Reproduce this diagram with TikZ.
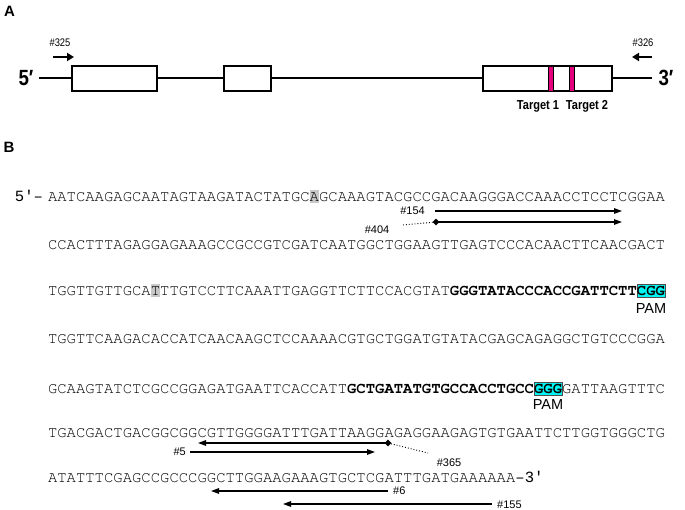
\documentclass[tikz,border=0pt]{standalone}
\usepackage[T1,TU]{fontenc}
\usepackage{fontspec}
\setmainfont{Liberation Sans}
\newfontfamily\narrowsans[FakeStretch=0.85]{Liberation Sans}
\newfontfamily\endmono{Liberation Mono}
\usetikzlibrary{arrows.meta,shapes.geometric}
\newcommand\seqf{\fontencoding{T1}\fontfamily{pcr}\fontseries{m}\fontshape{n}\fontsize{15.58}{18}\selectfont}
\definecolor{tgt}{RGB}{228,0,124}
\definecolor{pamc}{RGB}{0,245,245}
\definecolor{hl}{RGB}{200,200,200}
\tikzset{
  seq/.style={anchor=base west, inner sep=0, outer sep=0, font=\seqf},
  endlab/.style={inner sep=0, outer sep=0, font=\endmono\fontsize{15.58}{18}\selectfont},
  lab/.style={inner sep=0, font=\fontsize{11}{12}\selectfont},
  panel/.style={inner sep=0, font=\bfseries\fontsize{15}{15}\selectfont},
  exon/.style={draw, fill=white, line width=1.8, minimum height=25, inner sep=0},
  bar/.style={draw, fill=tgt, line width=0.6, minimum width=5, minimum height=25, inner sep=0},
  primer/.style={line width=2.8, -{Triangle[length=7pt,width=8pt]}},
  arr/.style={line width=1.3, -{Triangle[length=8pt,width=5.5pt]}},
  dmd/.style={diamond, fill, inner sep=0, minimum size=7},
  dots/.style={dotted, line width=0.9},
  pambox/.style={fill=pamc, draw=black!70, line width=0.7},
}
\begin{document}
\begin{tikzpicture}[x=1pt,y=-1pt]
\useasboundingbox (0,0) rectangle (685,510);
% ---------------- Panel A
\node[panel] (lA) at (9.5,11) {A};
\coordinate (m0) at (39,78);
\coordinate (m1) at (652,78);
\draw[line width=2.5] (m0) -- (m1);
\node[exon, minimum width=85] (e1) at (114.5,78.5) {};
\node[exon, minimum width=47] (e2) at (247.5,78.5) {};
\node[exon, minimum width=129] (e3) at (547.5,78.5) {};
\node[bar] (t1) at (550.5,78.5) {};
\node[bar] (t2) at (571.5,78.5) {};
\node[inner sep=0, font=\narrowsans\bfseries\fontsize{22}{22}\selectfont] (five) at (26,78) {5′};
\node[inner sep=0, font=\narrowsans\bfseries\fontsize{22}{22}\selectfont] (three) at (666,78) {3′};
\node[inner sep=0, font=\narrowsans\fontsize{11}{12}\selectfont] (n325) at (60,43) {\#325};
\node[inner sep=0, font=\narrowsans\fontsize{11}{12}\selectfont] (n326) at (643,43) {\#326};
\coordinate (p1s) at (53,57); \coordinate (p1e) at (74,57);
\coordinate (p2s) at (652,57); \coordinate (p2e) at (632,57);
\draw[primer] (p1s) -- (p1e);
\draw[primer] (p2s) -- (p2e);
\node[inner sep=0, font=\narrowsans\bfseries\fontsize{13}{13}\selectfont] (lt1) at (538,106) {Target 1};
\node[inner sep=0, font=\narrowsans\bfseries\fontsize{13}{13}\selectfont] (lt2) at (587,106) {Target 2};
% ---------------- Panel B
\node[panel] (lB) at (9,147) {B};
% highlights
\fill[hl] (309.7,190.5) rectangle (319.1,203.5);
\fill[hl] (150.8,284.5) rectangle (160.2,297.5);
\filldraw[pambox] (636.9,284.5) rectangle (665.0,297.5);
\filldraw[pambox] (534.1,382.5) rectangle (562.1,395.5);
% sequence lines
\node[endlab, anchor=base east] (p5) at (43,201.5) {5′–};
\node[seq] (s1) at (48,201.5) {AATCAAGAGCAATAGTAAGATACTATGCAGCAAAGTACGCCGACAAGGGACCAAACCTCCTCGGAA};
\node[seq] (s2) at (48,249.5) {CCACTTTAGAGGAGAAAGCCGCCGTCGATCAATGGCTGGAAGTTGAGTCCCACAACTTCAACGACT};
\node[seq] (s3) at (48,295.5) {TGGTTGTTGCATTTGTCCTTCAAATTGAGGTTCTTCCACGTAT{\bfseries GGGTATACCCACCGATTCTTCGG}};
\node[seq] (s4) at (48,343.5) {TGGTTCAAGACACCATCAACAAGCTCCAAAACGTGCTGGATGTATACGAGCAGAGGCTGTCCCGGA};
\node[seq] (s5) at (48,393.5) {GCAAGTATCTCGCCGGAGATGAATTCACCATT{\bfseries GCTGATATGTGCCACCTGCCGGG}GATTAAGTTTC};
\node[seq] (s6) at (48,437.5) {TGACGACTGACGGCGGCGTTGGGGATTTGATTAAGGAGAGGAAGAGTGTGAATTCTTGGTGGGCTG};
\node[seq] (s7) at (48,482.5) {ATATTTCGAGCCGCCCGGCTTGGAAGAAAGTGCTCGATTTGATGAAAAAA};
\node[endlab, anchor=base west] (p3) at (s7.base east) {–3′};
% PAM labels
\node[inner sep=0, font=\fontsize{14.5}{15}\selectfont] (pam1) at (651,309) {PAM};
\node[inner sep=0, font=\fontsize{14.5}{15}\selectfont] (pam2) at (548,405) {PAM};
% primers line 1
\coordinate (a154s) at (435,211); \coordinate (a154e) at (622,211);
\draw[arr] (a154s) -- (a154e);
\node[lab, anchor=east] (l154) at (425,211) {\#154};
\node[dmd] (d404) at (436,222) {};
\coordinate (a404e) at (622,222);
\draw[arr] (d404.center) -- (a404e);
\coordinate (dot404) at (403,225);
\draw[dots] (dot404) -- (d404);
\node[lab] (l404) at (377,230) {\#404};
% primers line 6
\node[dmd] (d365) at (388,443) {};
\coordinate (a365e) at (198,443);
\draw[arr] (d365.center) -- (a365e);
\coordinate (a5s) at (190,452); \coordinate (a5e) at (375,452);
\draw[arr] (a5s) -- (a5e);
\node[lab, anchor=east] (l5) at (186,452) {\#5};
\coordinate (dot365) at (428,453);
\draw[dots] (d365) -- (dot365);
\node[lab] (l365) at (449,463) {\#365};
% primers line 7
\coordinate (a6s) at (388,491); \coordinate (a6e) at (211,491);
\draw[arr] (a6s) -- (a6e);
\node[lab, anchor=west] (l6) at (393,491) {\#6};
\coordinate (a155s) at (492,504); \coordinate (a155e) at (283,504);
\draw[arr] (a155s) -- (a155e);
\node[lab, anchor=west] (l155) at (497,505) {\#155};
\end{tikzpicture}
\end{document}
